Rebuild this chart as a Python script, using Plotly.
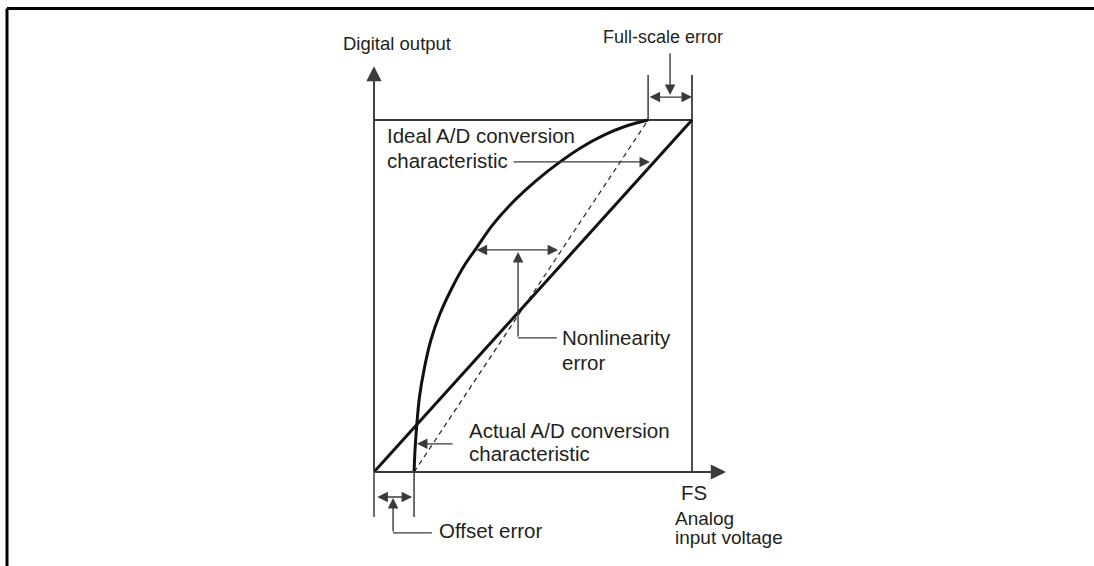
import plotly.graph_objects as go

# ---- data (x in units of full scale FS, y in units of full-scale code) ----
full_scale = 1.0          # FS on the analog axis
max_code = 1.0            # top digital code
offset_error = 0.126      # actual characteristic starts here
fs_actual = 0.862         # actual characteristic reaches full code here

# actual (nonlinear) A/D conversion characteristic
curve_x = [0.126, 0.129, 0.134, 0.143, 0.159, 0.179, 0.206, 0.242, 0.285,
           0.322, 0.373, 0.437, 0.513, 0.585, 0.648, 0.723, 0.793, 0.862]
curve_y = [0.000, 0.0625, 0.128, 0.213, 0.298, 0.375, 0.446, 0.517, 0.588,
           0.636, 0.702, 0.767, 0.830, 0.881, 0.920, 0.957, 0.983, 1.000]

# ideal characteristic
ideal_x = [0.0, full_scale]
ideal_y = [0.0, max_code]

# straight line through the actual end points
dash_x = [offset_error, fs_actual]
dash_y = [0.0, max_code]

FONT = "Liberation Sans, Arial, sans-serif"
TXT = "#231f20"
LINE = "#3a3a3a"
FS = 20.5

fig = go.Figure()

def seg(xs, ys, width=1.6, color=LINE, dash=None, shape="linear", smoothing=1):
    fig.add_trace(go.Scatter(x=xs, y=ys, mode="lines", hoverinfo="skip",
                             line=dict(width=width, color=color, dash=dash,
                                       shape=shape, smoothing=smoothing),
                             showlegend=False))

# frame of the transfer diagram
seg([0, full_scale], [max_code, max_code], width=1.8)
seg([full_scale, full_scale], [0, 1.128], width=1.8)
seg([fs_actual, fs_actual], [max_code, 1.128], width=1.5)
seg([0, 0], [0, -0.128], width=1.5)
seg([offset_error, offset_error], [0, -0.128], width=1.5)

# characteristics
seg(dash_x, dash_y, width=1.2, color="#222", dash="5px,4px")
seg(ideal_x, ideal_y, width=3, color="#111")
seg(curve_x, curve_y, width=3, color="#111", shape="spline", smoothing=1.0)

# leader elbows
seg([0.575, 0.453], [0.381, 0.381], width=1.4)
seg([0.182, 0.060], [-0.173, -0.173], width=1.4)

def arrow(x0, y0, x1, y1, both=False, width=1.4, size=1.5):
    fig.add_annotation(x=x1, y=y1, ax=x0, ay=y0, xref="x", yref="y",
                       axref="x", ayref="y", text="", showarrow=True,
                       arrowhead=2, arrowsize=size, arrowwidth=width,
                       arrowcolor=LINE, standoff=0, startstandoff=0,
                       startarrowhead=2, startarrowsize=size,
                       arrowside="end+start" if both else "end")

# axes with arrows
arrow(0, 0, 0, 1.153, width=1.9, size=1.6)
arrow(0, 0, 1.107, 0, width=1.9, size=1.6)

# full-scale error
arrow(fs_actual, 1.065, full_scale, 1.065, both=True)
arrow(0.931, 1.193, 0.931, 1.071)
# ideal pointer
arrow(0.434, 0.881, 0.868, 0.881)
# nonlinearity
arrow(0.318, 0.631, 0.579, 0.631, both=True)
arrow(0.453, 0.381, 0.453, 0.625)
# actual pointer
arrow(0.252, 0.080, 0.135, 0.080)
# offset error
arrow(0.006, -0.071, 0.120, -0.071, both=True)
arrow(0.060, -0.173, 0.060, -0.074)

def label(x, y, t, size=FS):
    fig.add_annotation(x=x, y=y, xref="x", yref="y", text=t, showarrow=False,
                       xanchor="left", yanchor="middle", align="left",
                       font=dict(family=FONT, size=size, color=TXT))

label(-0.104, 1.216, "Digital output", size=18.5)
label(0.714, 1.236, "Full-scale error", size=18)
label(0.035, 0.957, "Ideal A/D conversion")
label(0.035, 0.884, "characteristic")
label(0.585, 0.381, "Nonlinearity")
label(0.585, 0.3125, "error")
label(0.292, 0.119, "Actual A/D conversion")
label(0.292, 0.054, "characteristic")
label(0.198, -0.166, "Offset error")
label(0.959, -0.057, "FS")
label(0.940, -0.131, "Analog", size=19)
label(0.940, -0.186, "input voltage", size=19)

# outer border (top and left edges)
fig.add_shape(type="line", xref="paper", yref="paper", x0=0.0064, x1=1.0,
              y0=0.985, y1=0.985, line=dict(color="black", width=3))
fig.add_shape(type="line", xref="paper", yref="paper", x0=0.0064, x1=0.0064,
              y0=0.0, y1=0.985, line=dict(color="black", width=3))

fig.update_layout(
    width=1094, height=566, margin=dict(l=0, r=0, t=0, b=0),
    paper_bgcolor="white", plot_bgcolor="white", template="none",
    xaxis=dict(range=[-1.1761, 2.2642], visible=False, fixedrange=True),
    yaxis=dict(range=[-0.2670, 1.3409], visible=False, fixedrange=True),
)

fig.write_html("out.html", config={"displayModeBar": False},
               post_script="document.body.style.margin='0';document.body.style.overflow='hidden';")
